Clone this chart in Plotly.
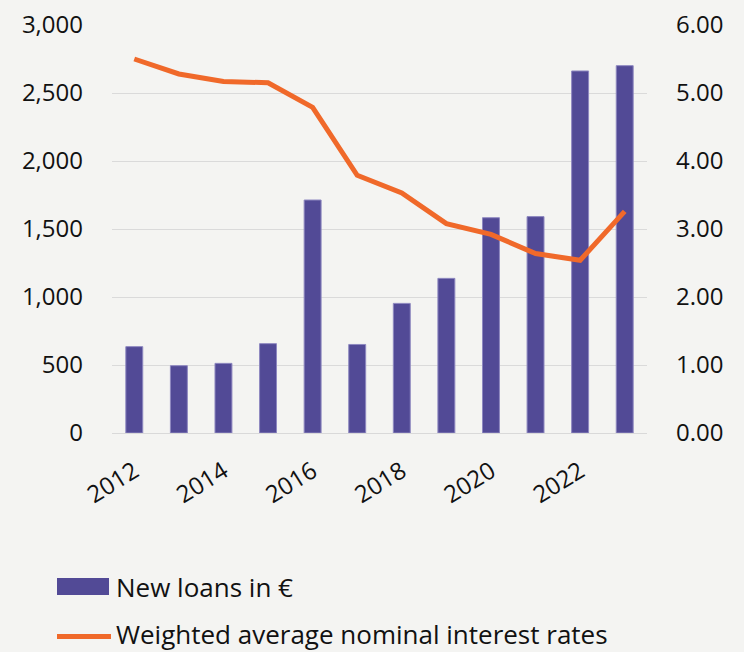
import plotly.graph_objects as go

years = [2012, 2013, 2014, 2015, 2016, 2017, 2018, 2019, 2020, 2021, 2022, 2023]
new_loans = [635, 495, 512, 657, 1713, 651, 953, 1137, 1583, 1591, 2662, 2701]
interest_rates = [5.50, 5.28, 5.17, 5.15, 4.79, 3.79, 3.53, 3.08, 2.92, 2.64, 2.54, 3.26]
x_tick_labels = ["2012", "2014", "2016", "2018", "2020", "2022"]
left_ticks = [0, 500, 1000, 1500, 2000, 2500, 3000]
right_ticks = [0, 1, 2, 3, 4, 5, 6]
legend_names = ["New loans in €", "Weighted average nominal interest rates"]

font = "Open Sans"
bg = "#F4F4F2"
purple = "#524A96"
orange = "#F0692A"

fig = go.Figure()
fig.add_trace(go.Bar(
    x=years, y=new_loans, name=legend_names[0],
    marker=dict(color=purple, line=dict(color="#8E88C0", width=1)),
    yaxis="y", showlegend=False,
))
fig.add_trace(go.Scatter(
    x=years, y=interest_rates, name=legend_names[1],
    mode="lines", line=dict(color=orange, width=5),
    yaxis="y2", showlegend=False,
))

# custom legend (wide symbols as in the reference)
fig.add_shape(type="rect", xref="paper", yref="paper",
              x0=-0.1028, x1=-0.0056, y0=-0.397, y1=-0.3554,
              fillcolor=purple, line=dict(width=0))
fig.add_shape(type="line", xref="paper", yref="paper",
              x0=-0.1028, x1=-0.0019, y0=-0.499, y1=-0.499,
              line=dict(color=orange, width=5))
fig.add_annotation(text=legend_names[0], xref="paper", yref="paper",
                   x=0.0056, y=-0.377, xanchor="left", yanchor="middle",
                   showarrow=False, borderpad=0,
                   font=dict(family=font, size=26, color="#111111"))
fig.add_annotation(text=legend_names[1], xref="paper", yref="paper",
                   x=0.0056, y=-0.493, xanchor="left", yanchor="middle",
                   showarrow=False, borderpad=0,
                   font=dict(family=font, size=26, color="#111111"))

fig.update_layout(
    width=744, height=652,
    paper_bgcolor=bg, plot_bgcolor=bg,
    margin=dict(l=112, r=97, t=25, b=219, autoexpand=False),
    font=dict(family=font, size=24, color="#111111"),
    bargap=0.62,
    showlegend=False,
    xaxis=dict(
        range=[2011.5, 2023.5],
        tickmode="array",
        tickvals=[int(t) for t in x_tick_labels],
        ticktext=x_tick_labels,
        tickangle=-32,
        showgrid=False, zeroline=False,
        showline=True, linecolor="#D9D9D9", linewidth=1,
        ticks="", tickfont=dict(size=24),
        ticklabelstandoff=14,
        automargin=False,
    ),
    yaxis=dict(
        range=[0, 3000],
        tickmode="array", tickvals=left_ticks,
        ticktext=[f"{v:,}" for v in left_ticks],
        showgrid=True, gridcolor="#DADADA", gridwidth=1,
        zeroline=False, ticks="",
        ticklabelstandoff=28,
        tickfont=dict(size=24),
        automargin=False,
    ),
    yaxis2=dict(
        range=[0, 6], overlaying="y", side="right",
        tickmode="array", tickvals=right_ticks,
        ticktext=[f"{v:.2f}" for v in right_ticks],
        showgrid=False, zeroline=False,
        ticklabelstandoff=28,
        tickfont=dict(size=24),
        automargin=False,
    ),
)

fig.write_html("out.html")
